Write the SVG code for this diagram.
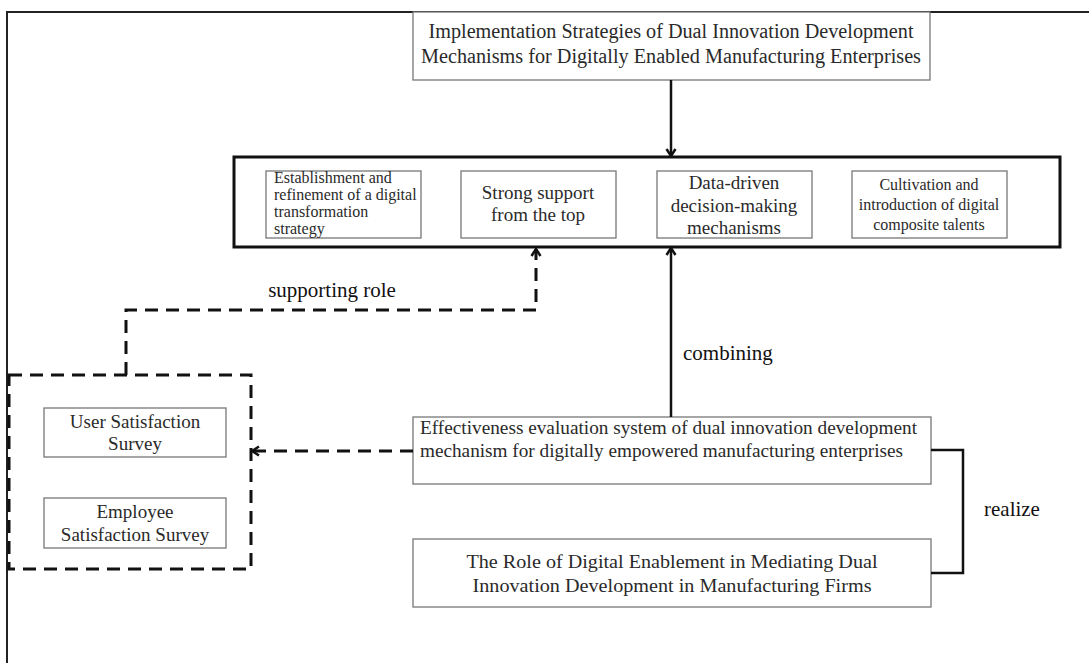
<svg xmlns="http://www.w3.org/2000/svg" width="1089" height="663" viewBox="0 0 1089 663">
  <defs>
    <style>
      .box { fill: #fff; stroke: #777; stroke-width: 1.3; }
      .big { fill: none; stroke: #111; stroke-width: 3; }
      .frame { fill: none; stroke: #222; stroke-width: 2; }
      .t { font-family: "Liberation Serif", "Times New Roman", serif; fill: #2a2a2a; }
      .lbl { font-family: "Liberation Serif", "Times New Roman", serif; fill: #111; font-size: 21px; }
      .mid { text-anchor: middle; }
      .solid { fill: none; stroke: #111; stroke-width: 2.5; }
      .dash { fill: none; stroke: #111; stroke-width: 3; stroke-dasharray: 13 8; }
    </style>
    <marker id="head" markerUnits="userSpaceOnUse" viewBox="0 0 12 12" markerWidth="12" markerHeight="12" refX="11" refY="6" orient="auto">
      <path d="M4,1.5 L11,6 L4,10.5" fill="none" stroke="#111" stroke-width="2.5" stroke-dasharray="none"/>
    </marker>
  </defs>

  <rect width="1089" height="663" fill="#fff"/>

  <!-- outer frame: top and left edges only -->
  <path class="frame" d="M7,663 L7,12 L1089,12"/>

  <g id="strategies">
    <rect class="box" x="413" y="12" width="517" height="68"/>
    <text class="t mid" x="671" y="38" font-size="20" textLength="485" lengthAdjust="spacingAndGlyphs">Implementation Strategies of Dual Innovation Development</text>
    <text class="t mid" x="671" y="63" font-size="20" textLength="500" lengthAdjust="spacingAndGlyphs">Mechanisms for Digitally Enabled Manufacturing Enterprises</text>
  </g>

  <g id="measures">
    <rect class="big" x="234" y="157" width="826" height="90"/>
    <g id="m1">
      <rect class="box" x="266" y="171" width="155" height="67"/>
      <text class="t" x="274" font-size="16"><tspan x="274" y="183">Establishment and</tspan><tspan x="274" y="200">refinement of a digital</tspan><tspan x="274" y="217">transformation</tspan><tspan x="274" y="234">strategy</tspan></text>
    </g>
    <g id="m2">
      <rect class="box" x="461" y="171" width="155" height="67"/>
      <text class="t mid" font-size="19"><tspan x="538" y="199">Strong support</tspan><tspan x="538" y="221">from the top</tspan></text>
    </g>
    <g id="m3">
      <rect class="box" x="657" y="171" width="155" height="67"/>
      <text class="t mid" font-size="19"><tspan x="734" y="189">Data-driven</tspan><tspan x="734" y="212">decision-making</tspan><tspan x="734" y="234">mechanisms</tspan></text>
    </g>
    <g id="m4">
      <rect class="box" x="852" y="171" width="155" height="67"/>
      <text class="t mid" font-size="16"><tspan x="929" y="190">Cultivation and</tspan><tspan x="929" y="210">introduction of digital</tspan><tspan x="929" y="230">composite talents</tspan></text>
    </g>
  </g>

  <g id="surveys">
    <rect x="9" y="375" width="242" height="194" class="dash"/>
    <g id="user-survey">
      <rect class="box" x="44" y="408" width="182" height="49"/>
      <text class="t mid" font-size="19"><tspan x="135" y="428">User Satisfaction</tspan><tspan x="135" y="450">Survey</tspan></text>
    </g>
    <g id="employee-survey">
      <rect class="box" x="44" y="498" width="182" height="50"/>
      <text class="t mid" font-size="19"><tspan x="135" y="518">Employee</tspan><tspan x="135" y="541">Satisfaction Survey</tspan></text>
    </g>
  </g>

  <g id="evaluation">
    <rect class="box" x="413" y="417" width="518" height="67"/>
    <text class="t" font-size="19"><tspan x="420" y="434" textLength="497" lengthAdjust="spacingAndGlyphs">Effectiveness evaluation system of dual innovation development</tspan><tspan x="420" y="457" textLength="483" lengthAdjust="spacingAndGlyphs">mechanism  for digitally empowered manufacturing enterprises</tspan></text>
  </g>

  <g id="role">
    <rect class="box" x="413" y="539" width="518" height="68"/>
    <text class="t mid" font-size="19"><tspan x="672" y="568" textLength="411" lengthAdjust="spacingAndGlyphs">The Role of Digital Enablement in Mediating Dual</tspan><tspan x="672" y="592" textLength="399" lengthAdjust="spacingAndGlyphs">Innovation Development in Manufacturing Firms</tspan></text>
  </g>

  <g id="connectors">
    <path class="solid" d="M671,80 L671,156" marker-end="url(#head)"/>
    <path class="solid" d="M671,417 L671,248" marker-end="url(#head)"/>
    <path class="dash" d="M126,375 L126,310 L536,310 L536,249" marker-end="url(#head)"/>
    <path class="dash" d="M413,451 L252,451" marker-end="url(#head)"/>
    <path class="solid" d="M931,450 L963,450 L963,573 L931,573"/>
    <text class="lbl" x="332" y="297" text-anchor="middle">supporting role</text>
    <text class="lbl" x="683" y="360">combining</text>
    <text class="lbl" x="984" y="516">realize</text>
  </g>
</svg>
